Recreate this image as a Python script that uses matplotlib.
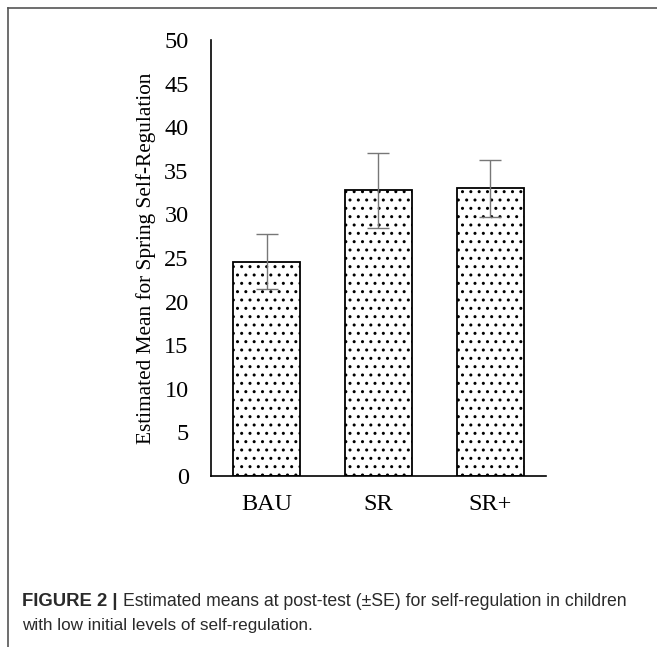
import numpy as np
import matplotlib.pyplot as plt
from matplotlib.lines import Line2D

groups = ['BAU', 'SR', 'SR+']
means = [24.6, 32.8, 33.0]
err_low = [21.5, 28.5, 29.7]
err_high = [27.8, 37.1, 36.3]

yerr = np.array([np.array(means) - np.array(err_low),
                 np.array(err_high) - np.array(means)])

plt.rcParams['hatch.linewidth'] = 1.0

fig = plt.figure(figsize=(6.57, 6.47), dpi=100)
ax = fig.add_axes([0.321, 0.2643, 0.51, 0.6737])

x = np.arange(len(groups))
ax.bar(x, means, width=0.6, color='white', edgecolor='black', linewidth=1.3,
       hatch='..', zorder=2)
ax.errorbar(x, means, yerr=yerr, fmt='none', ecolor='#777777', elinewidth=1.0,
            capsize=8, capthick=1.0, zorder=3)

ax.set_xlim(-0.5, 2.5)
ax.set_ylim(0, 50)
ax.set_yticks(np.arange(0, 51, 5))
ax.set_xticks(x)
ax.set_xticklabels(groups)
serif = 'Liberation Serif'
for lab in ax.get_xticklabels() + ax.get_yticklabels():
    lab.set_family(serif)
    lab.set_fontsize(17.5)
ax.tick_params(length=0)
ax.tick_params(axis='y', pad=16)
ax.tick_params(axis='x', pad=13)
ax.set_ylabel('Estimated Mean for Spring Self-Regulation', family=serif,
              fontsize=15.3, labelpad=6)
for s in ['top', 'right']:
    ax.spines[s].set_visible(False)
for s in ['left', 'bottom']:
    ax.spines[s].set_color('black')
    ax.spines[s].set_linewidth(1.2)

# outer frame (open at right and bottom)
fig.add_artist(Line2D([0.0122, 1.0], [0.9876, 0.9876], color='#555555', lw=1.2,
                      transform=fig.transFigure))
fig.add_artist(Line2D([0.0122, 0.0122], [0.0, 0.9876], color='#555555', lw=1.2,
                      transform=fig.transFigure))

cap_font = ['Liberation Sans', 'DejaVu Sans']
fig.text(0.034, 0.063, 'FIGURE 2 |', family=cap_font, fontsize=13.3,
         fontweight='bold', color='#2a2a2a')
fig.text(0.187, 0.063, 'Estimated means at post-test (\u00b1SE) for self-regulation in children',
         family=cap_font, fontsize=12.7, color='#2a2a2a')
fig.text(0.034, 0.026, 'with low initial levels of self-regulation.',
         family=cap_font, fontsize=12.3, color='#2a2a2a')

fig.savefig('out.png', dpi=100)
